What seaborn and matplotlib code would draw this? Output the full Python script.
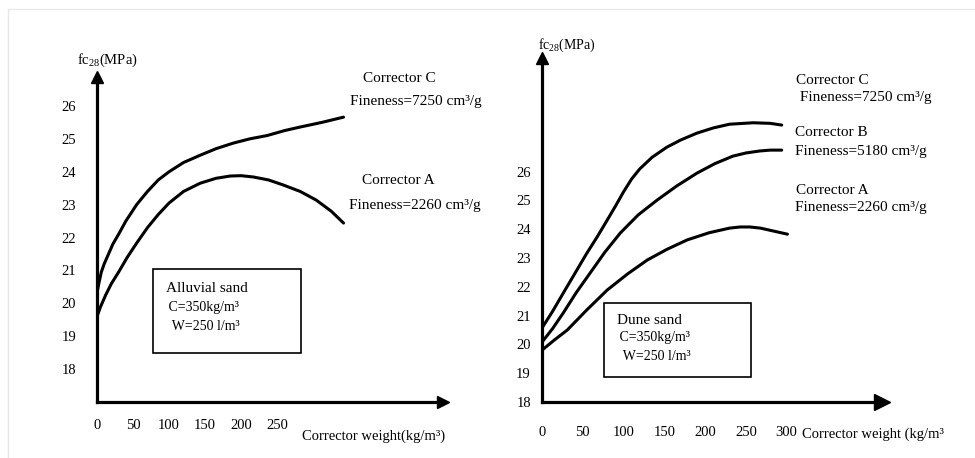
import matplotlib
matplotlib.use("Agg")
import matplotlib.pyplot as plt
from matplotlib.patches import Rectangle
from matplotlib.lines import Line2D
import pandas as pd
import seaborn as sns

# ---------------- data ----------------
# Left panel: alluvial sand
alluvial_w_C = [0, 2, 6, 10, 16, 22, 30, 40, 55, 70, 85, 100, 120, 143, 165,
                189, 212, 236, 260, 282, 312, 342]
alluvial_fc_C = [20.3, 20.55, 20.95, 21.2, 21.5, 21.8, 22.1, 22.5, 23.0, 23.4,
                 23.75, 24.0, 24.28, 24.5, 24.7, 24.87, 25.0, 25.1, 25.25,
                 25.36, 25.5, 25.66]
alluvial_w_A = [0, 5, 12, 20, 30, 42, 55, 70, 85, 100, 120, 143, 165, 185, 200,
                217, 238, 258, 282, 304, 325, 342]
alluvial_fc_A = [19.6, 19.9, 20.25, 20.6, 20.95, 21.4, 21.83, 22.3, 22.7,
                 23.05, 23.4, 23.65, 23.8, 23.87, 23.88, 23.84, 23.75, 23.6,
                 23.4, 23.14, 22.8, 22.44]

# Right panel: dune sand
dune_w_C = [0, 13, 26, 40, 55, 68, 80, 90, 100, 110, 120, 135, 153, 170, 190,
            210, 230, 259, 280, 294]
dune_fc_C = [20.57, 21.15, 21.78, 22.45, 23.17, 23.75, 24.32, 24.8, 25.3,
             25.75, 26.1, 26.5, 26.85, 27.1, 27.34, 27.52, 27.65, 27.7, 27.68,
             27.62]
dune_w_B = [0, 13, 26, 42, 59, 77, 96, 118, 141, 165, 190, 212, 234, 250, 267,
            280, 294]
dune_fc_B = [20.08, 20.55, 21.09, 21.8, 22.48, 23.2, 23.87, 24.5, 25.01, 25.5,
             25.95, 26.28, 26.54, 26.65, 26.72, 26.75, 26.75]
dune_w_A = [0, 15, 31, 55, 80, 105, 129, 153, 178, 205, 230, 243, 255, 268,
            279, 290, 301]
dune_fc_A = [19.8, 20.15, 20.5, 21.2, 21.89, 22.45, 22.93, 23.3, 23.63, 23.88,
             24.04, 24.08, 24.08, 24.04, 23.97, 23.9, 23.83]

left_xticks = [0, 50, 100, 150, 200, 250]
right_xticks = [0, 50, 100, 150, 200, 250, 300]
yticks = [18, 19, 20, 21, 22, 23, 24, 25, 26]

left_labels = [("Corrector C", "Fineness=7250 cm³/g"),
               ("Corrector A", "Fineness=2260 cm³/g")]
right_labels = [("Corrector C", " Fineness=7250 cm³/g"),
                ("Corrector B", "Fineness=5180 cm³/g"),
                ("Corrector A", "Fineness=2260 cm³/g")]
left_box = ["Alluvial sand", " C=350kg/m³", "  W=250 l/m³"]
right_box = ["Dune sand", " C=350kg/m³", "  W=250 l/m³"]

# ---------------- style ----------------
sns.set_style("white")
plt.rcParams["font.family"] = ["Liberation Serif", "DejaVu Serif"]
plt.rcParams["mathtext.fontset"] = "custom"
plt.rcParams["mathtext.rm"] = "Liberation Serif"
plt.rcParams["mathtext.it"] = "Liberation Serif:italic"

W, H = 975, 458
fig = plt.figure(figsize=(W / 100, H / 100), dpi=100)
fig.patch.set_facecolor("white")


def fx(x):
    return x / W


def fy(y):
    return 1 - y / H


# faint page border
fig.add_artist(Line2D([fx(8), 1], [fy(9), fy(9)], color="#e8e8e8", lw=1))
fig.add_artist(Line2D([fx(8), fx(8)], [fy(9), 0], color="#e8e8e8", lw=1))

AX_LW = 2.3
CURVE_LW = 2.2


def make_long(ws, fcs, names):
    rows = []
    for w, f, n in zip(ws, fcs, names):
        for a, b in zip(w, f):
            rows.append({"w": a, "fc": b, "corrector": n})
    return pd.DataFrame(rows)


def style_axes(ax, xlim, ylim, xticks, xpad, ypad, arrow_up_size, arrow_right_size):
    ax.set_xlim(*xlim)
    ax.set_ylim(*ylim)
    ax.set_facecolor("none")
    for s in ["top", "right"]:
        ax.spines[s].set_visible(False)
    for s in ["left", "bottom"]:
        ax.spines[s].set_linewidth(AX_LW)
        ax.spines[s].set_color("black")
    ax.set_xticks(xticks)
    ax.set_xticklabels([str(t) for t in xticks])
    ax.set_yticks(yticks)
    ax.set_yticklabels([str(t) for t in yticks])
    ax.tick_params(axis="x", direction="in", length=3, width=1.5, pad=xpad,
                   labelsize=10.5, colors="black")
    ax.tick_params(axis="y", length=0, pad=ypad, labelsize=10.5, colors="black")
    ax.set_xlabel("")
    ax.set_ylabel("")
    ax.plot([0], [1], marker="^", color="black", markersize=arrow_up_size,
            transform=ax.transAxes, clip_on=False)
    ax.plot([1], [0], marker=">", color="black", markersize=arrow_right_size,
            transform=ax.transAxes, clip_on=False)


# ---------------- left panel ----------------
axL = fig.add_axes([fx(97), fy(402), fx(443 - 97), (402 - 77) / H])
dfL = make_long([alluvial_w_C, alluvial_w_A], [alluvial_fc_C, alluvial_fc_A],
                ["C", "A"])
sns.lineplot(data=dfL, x="w", y="fc", hue="corrector",
             palette={"C": "black", "A": "black"}, sort=False,
             estimator=None, linewidth=CURVE_LW, legend=False, ax=axL)
style_axes(axL, (0, 480), (17.0, 26.88), left_xticks, 12, 15, 9, 9)

# ---------------- right panel ----------------
axR = fig.add_axes([fx(542), fy(402), fx(882 - 542), (402 - 58) / H])
dfR = make_long([dune_w_C, dune_w_B, dune_w_A],
                [dune_fc_C, dune_fc_B, dune_fc_A], ["C", "B", "A"])
sns.lineplot(data=dfR, x="w", y="fc", hue="corrector",
             palette={"C": "black", "B": "black", "A": "black"}, sort=False,
             estimator=None, linewidth=CURVE_LW, legend=False, ax=axR)
style_axes(axR, (0, 417), (18.0, 29.95), right_xticks, 17, 8, 9, 11)

# ---------------- annotations ----------------
FS = 11


def ftext(x, y, s, size=FS, **kw):
    fig.text(fx(x), fy(y), s, ha="left", va="center", fontsize=size,
             color="black", **kw)


# left labels
ftext(363, 78, left_labels[0][0])
ftext(350, 101, left_labels[0][1])
ftext(362, 181, left_labels[1][0])
ftext(349, 205, left_labels[1][1])
ftext(77, 60, r"$\mathregular{fc_{28}}$(MPa)", size=10.5)
ftext(302, 436, "Corrector weight(kg/m³)", size=10.5)

fig.add_artist(Rectangle((fx(153), fy(353)), fx(301 - 153), (353 - 269) / H,
                         fill=False, edgecolor="black", lw=1.2,
                         transform=fig.transFigure))
ftext(166, 289, left_box[0])
ftext(165, 308, left_box[1], size=10)
ftext(165, 326, left_box[2], size=10)

# right labels
ftext(796, 81, right_labels[0][0])
ftext(796, 98, right_labels[0][1])
ftext(795, 133, right_labels[1][0])
ftext(795, 152, right_labels[1][1])
ftext(796, 191, right_labels[2][0])
ftext(795, 207, right_labels[2][1])
ftext(538, 45, r"$\mathregular{fc_{28}}$(MPa)", size=10)
ftext(802, 434, "Corrector weight (kg/m³", size=10.5)

fig.add_artist(Rectangle((fx(604), fy(377)), fx(751 - 604), (377 - 303) / H,
                         fill=False, edgecolor="black", lw=1.2,
                         transform=fig.transFigure))
ftext(617, 320, right_box[0])
ftext(616, 338, right_box[1], size=10)
ftext(616, 357, right_box[2], size=10)

fig.savefig("out.png", dpi=100, facecolor="white")
